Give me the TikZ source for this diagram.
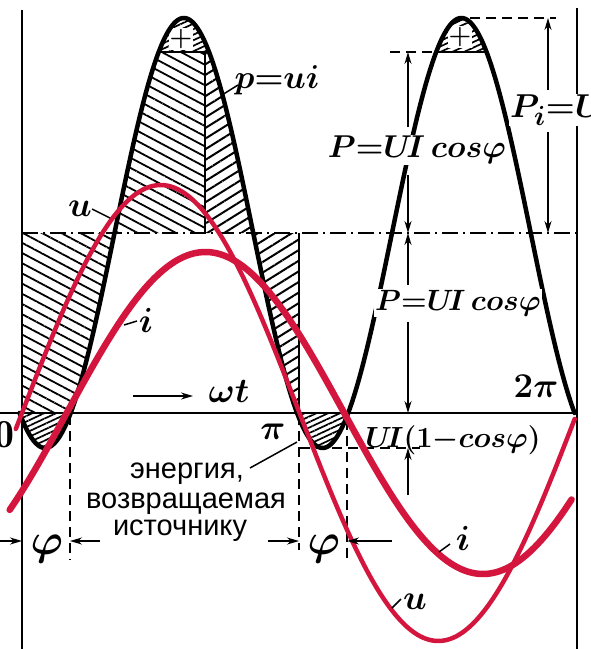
\documentclass[tikz,border=0pt]{standalone}
\usepackage{fontspec}
\usepackage{amsmath}
\newfontfamily\cyrfont{Liberation Sans}
\usetikzlibrary{arrows.meta,patterns.meta}
\definecolor{redink}{RGB}{212,22,62}
\newcommand\mlabtext[2][1.33]{\scalebox{#1}{\fontsize{24.88}{25}\selectfont\boldmath$#2$}}
\tikzset{
  pcurve/.style={line width=4.5pt,line join=round,line cap=round},
  redu/.style={draw=redink,line width=4.5pt,line cap=round},
  redi/.style={draw=redink,line width=6.5pt,line cap=round},
  frameln/.style={line width=1.8pt},
  dimln/.style={line width=1.5pt},
  dashln/.style={line width=1.6pt,dash pattern=on 10pt off 6pt},
  dashdotln/.style={line width=1.6pt,dash pattern=on 16pt off 5pt on 2pt off 5pt},
  tip/.style={-{Stealth[length=12pt,width=7pt]}},
  hatchback/.style={pattern={Lines[angle=-28,distance=9pt,line width=1.8pt]}},
  hatchfwd/.style={pattern={Lines[angle=32,distance=9pt,line width=2pt]}},
  darkfill/.style={pattern={Lines[angle=25,distance=5pt,line width=1.7pt]}},
  mlabel/.style={inner sep=1pt},
  cyrlabel/.style={font=\cyrfont\fontsize{29}{30}\selectfont,inner sep=0pt},
}
\begin{document}
\begin{tikzpicture}[x=1pt,y=-1pt]
\fill[white] (0,0) rectangle (591,649);
\useasboundingbox (0,0) rectangle (591,649);
% ---------- hatched areas ----------
\fill[hatchback] (22,413) -- plot[domain=31.58:60,samples=40] ({22+1.54167*\x},{233+215*cos(2*\x-30)}) -- (22,233) -- cycle;
\fill[hatchback] plot[domain=60:88.67,samples=40] ({22+1.54167*\x},{233+215*cos(2*\x-30)}) -- (205,52) -- (205,233) -- cycle;
\fill[hatchfwd] (205,52) -- plot[domain=121.33:150,samples=40] ({22+1.54167*\x},{233+215*cos(2*\x-30)}) -- (205,233) -- cycle;
\fill[hatchfwd] plot[domain=150:178.42,samples=40] ({22+1.54167*\x},{233+215*cos(2*\x-30)}) -- (299,413) -- (299,233) -- cycle;
% ---------- caps and negative lobes ----------
\foreach \a/\b in {88.67/121.33,268.67/301.33,-1.58/31.58,178.42/211.58}{
  \fill[white] plot[domain=\a:\b,samples=30] ({22+1.54167*\x},{233+215*cos(2*\x-30)}) -- cycle;
  \fill[darkfill] plot[domain=\a:\b,samples=30] ({22+1.54167*\x},{233+215*cos(2*\x-30)}) -- cycle;
}
\draw[line width=2.5pt] (158.7,52) -- (209.05,52);
\draw[line width=2.5pt] (436.2,52) -- (486.5,52);
\node[fill=white,inner sep=1pt,font=\fontsize{26}{26}\selectfont\bfseries] (plus1) at (181,39) {+};
\node[fill=white,inner sep=1pt,font=\fontsize{26}{26}\selectfont\bfseries] (plus2) at (460,37) {+};
% ---------- frame lines ----------
\coordinate (L0) at (22,10);  \coordinate (L1) at (22,649);
\coordinate (R0) at (577,8);  \coordinate (R1) at (577,649);
\draw[frameln] (L0) -- (L1);
\draw[frameln] (R0) -- (R1);
\coordinate (A0) at (0,413); \coordinate (A1) at (577,413);
\draw[frameln] (A0) -- (A1);
\coordinate (M0) at (22,233); \coordinate (M1) at (577,233);
\draw[dashdotln] (M0) -- (M1);
\draw[line width=2.5pt] (205,52) -- (205,233);
\draw[line width=2pt] (299,233) -- (299,413);
% dashed helper lines
\draw[dashln] (390,52) -- (436,52);
\draw[dashln] (470,18) -- (556,18);
\draw[dashln] (300,448) -- (420,448);
\draw[dashln] (70,415) -- (70,560);
\draw[dashln] (299,415) -- (299,550);
\draw[dashln] (347,420) -- (347,560);
% ---------- p curve ----------
\draw[pcurve] plot[domain=-1.58:358.42,samples=360] ({22+1.54167*\x},{233+215*cos(2*\x-30)});
% ---------- u and i ----------
\draw[redu] plot[domain=-4:358.5,samples=200] ({22+1.54167*\x},{413-228*sin(\x)});
\draw[redi] plot[domain=-8:356.5,samples=200] ({22+1.54167*\x},{413-161*sin(\x-29)});
% ---------- dimensions ----------
\draw[dimln,tip] (408,127) -- (408,52);
\draw[dimln,tip] (408,175) -- (408,233);
\draw[dimln,tip] (408,285) -- (408,233);
\draw[dimln,tip] (408,322) -- (408,413);
\draw[dimln,tip] (408,495) -- (408,448);
\draw[dimln,tip] (548,90) -- (548,18);
\draw[dimln,tip] (548,132) -- (548,233);
\draw[dimln,tip] (0,541) -- (22,541);
\draw[dimln,tip] (100,541) -- (70,541);
\draw[dimln,tip] (268,541) -- (299,541);
\draw[dimln,tip] (392,541) -- (347,541);
\draw[dimln,tip] (133,396) -- (193,396);
% ---------- labels ----------
\node[mlabel,fill=white] (P1) at (417,150) {\mlabtext[1.27]{P{=}U\!I\,cos\varphi}};
\node[mlabel,fill=white] (P2) at (458,303) {\mlabtext[1.18]{P{=}U\!I\,cos\varphi}};
\node[mlabel,fill=white,anchor=west] (Pi) at (509,110) {\mlabtext{P_i{=}U\!I}};
\node[mlabel] (UIc) at (453,440) {\mlabtext[1.17]{U\!I(1{-}cos\varphi)}};
\node[mlabel] (pui) at (277,80) {\mlabtext{p{=}ui}};
\draw[dimln] (222,95) -- (238,85);
\node[mlabel] (ulab) at (80,209) {\mlabtext[1.4]{u}};
\draw[dimln] (92,209) -- (110,218);
\node[mlabel] (ilab) at (146,320) {\mlabtext[1.4]{i}};
\draw[dimln] (124,325) -- (137,321);
\node[mlabel] (ilab2) at (463,538) {\mlabtext[1.4]{i}};
\draw[dimln] (439,552) -- (450,544);
\node[mlabel] (ulab2) at (415,602) {\mlabtext[1.4]{u}};
\draw[dimln] (392,608) -- (401,599);
\node[mlabel] (wt) at (229,391) {\mlabtext[1.4]{\omega t}};
\node[mlabel] (pi1) at (273,432) {\mlabtext[1.4]{\pi}};
\node[mlabel] (pi2) at (536,386) {\mlabtext[1.4]{2\pi}};
\node[inner sep=0pt] (zero) at (4,435) {\mlabtext[1.6]{\mathrm{0}}};
\node[inner sep=0pt] (phi1) at (47,549) {\mlabtext[1.75]{\varphi}};
\node[inner sep=0pt] (phi2) at (324,549) {\mlabtext[1.75]{\varphi}};
\node[cyrlabel,anchor=base] (e1) at (187,478) {энергия,};
\node[cyrlabel,anchor=base] (e2) at (186,508) {возвращаемая};
\node[cyrlabel,anchor=base] (e3) at (180,535) {источнику};
\draw[dimln] (250,468) -- (297,442);
\end{tikzpicture}
\end{document}
